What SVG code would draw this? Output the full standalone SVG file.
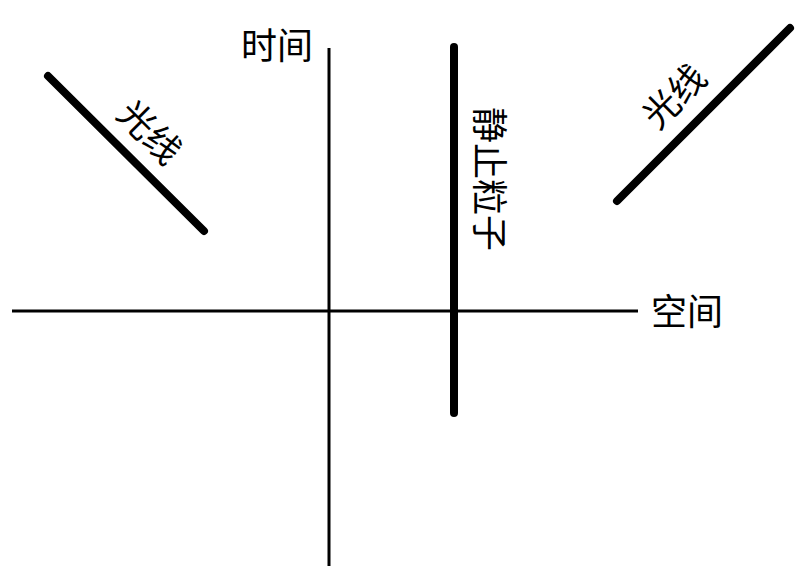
<svg xmlns="http://www.w3.org/2000/svg" width="800" height="571" viewBox="0 0 800 571">
<style>
.axis{stroke:#000;stroke-width:3;fill:none}
.thick{stroke:#000;stroke-width:8;stroke-linecap:round;fill:none}
.lbl{font-family:"Liberation Serif","Noto Sans CJK SC",serif;font-size:36px;fill:#000}
</style>
<rect width="800" height="571" fill="#fff"/>
<g id="connectors">
<line class="axis" x1="12" y1="311" x2="638" y2="311"/>
<line class="axis" x1="329" y1="48" x2="329" y2="566"/>
</g>
<g id="time-label"><text class="lbl" x="241" y="59">时间</text></g>
<g id="space-label"><text class="lbl" x="651" y="325">空间</text></g>
<g id="particle">
<line class="thick" x1="454" y1="47" x2="454" y2="413"/>
<text class="lbl" transform="translate(488,179) rotate(90)" text-anchor="middle" dominant-baseline="central">静止粒子</text>
</g>
<g id="light-left">
<line class="thick" x1="48" y1="76" x2="204" y2="231"/>
<text class="lbl" transform="translate(149,133) rotate(45)" text-anchor="middle" dominant-baseline="central">光线</text>
</g>
<g id="light-right">
<line class="thick" x1="617" y1="201" x2="790" y2="28"/>
<text class="lbl" transform="translate(675,97) rotate(-45)" text-anchor="middle" dominant-baseline="central">光线</text>
</g>
</svg>
